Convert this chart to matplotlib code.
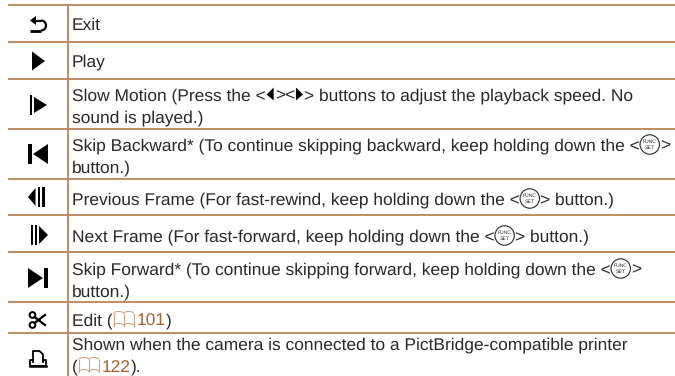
import re
import matplotlib
matplotlib.use("Agg")
import matplotlib.pyplot as plt
from matplotlib.patches import Polygon, Rectangle, Circle, Arc

plt.rcParams["font.family"] = ["Liberation Sans", "DejaVu Sans"]
plt.rcParams["text.hinting"] = "none"

TEXT = "#2b2728"
RULE = "#c08c62"
LINK = "#a4602e"
BOOK = "#cfa483"
FS = 12.5

rule_y = [5, 42, 79, 129, 179, 215, 252, 302, 333]
rule_x = 68

icons = ["exit", "play", "slow", "skipback", "prev", "next", "skipfwd", "edit", "print"]
icon_y = [24, 61, 105, 154, 197, 235, 278, 320, 359]

rows = [
    ["Exit"],
    ["Play"],
    ["Slow Motion (Press the <{L}><{R}> buttons to adjust the playback speed. No",
     "sound is played.)"],
    ["Skip Backward* (To continue skipping backward, keep holding down the <{F}>",
     "button.)"],
    ["Previous Frame (For fast-rewind, keep holding down the <{F}> button.)"],
    ["Next Frame (For fast-forward, keep holding down the <{F}> button.)"],
    ["Skip Forward* (To continue skipping forward, keep holding down the <{F}>",
     "button.)"],
    ["Edit ({B}[101])"],
    ["Shown when the camera is connected to a PictBridge-compatible printer",
     "({B}[122])."],
]
row_text_y = [[23.5], [60.5], [94.5, 116.5], [144.5, 166.5], [198.5], [235.5], [268.5, 290.5], [319.5], [343.5, 365.5]]

fig = plt.figure(figsize=(6.75, 3.76), dpi=100)
ax = fig.add_axes([0, 0, 1, 1])
ax.set_xlim(0, 675)
ax.set_ylim(376, 0)
ax.axis("off")


def tri(x0, x1, ytop, ybot):
    # x0 is the flat side, x1 the tip
    ax.add_patch(Polygon([(x0, ytop), (x0, ybot), (x1, (ytop + ybot) / 2)], fc="black", ec="none"))


def bar(x0, x1, y0, y1):
    ax.add_patch(Rectangle((x0, y0), x1 - x0, y1 - y0, fc="black", ec="none"))


def draw_icon(name, cy):
    if name == "exit":
        ax.plot([33, 41], [cy - 3.5, cy - 3.5], color="black", lw=1.6, solid_capstyle="butt")
        ax.add_patch(Arc((41, cy + 1.5), 10, 10, theta1=-90, theta2=90, color="black", lw=1.6))
        ax.plot([41, 29.5], [cy + 6.5, cy + 6.5], color="black", lw=2, solid_capstyle="butt")
        tri(36, 30, cy - 8, cy + 1)
    elif name == "play":
        tri(32, 45, cy - 9.5, cy + 9.5)
    elif name == "slow":
        bar(30, 32, cy - 10, cy + 10)
        tri(34, 47, cy - 8, cy + 8)
    elif name == "skipback":
        bar(28, 32, cy - 10, cy + 10)
        tri(48, 33, cy - 10, cy + 10)
    elif name == "prev":
        tri(35.5, 28, cy - 9, cy + 9)
        bar(37.5, 39.5, cy - 10, cy + 10)
        bar(42, 44.5, cy - 10, cy + 10)
    elif name == "next":
        bar(31, 33, cy - 10, cy + 10)
        bar(34.5, 36.5, cy - 10, cy + 10)
        tri(39, 48, cy - 9, cy + 9)
    elif name == "skipfwd":
        tri(28, 43, cy - 10, cy + 10)
        bar(44, 48, cy - 10, cy + 10)
    elif name == "edit":
        ax.add_patch(Circle((32.5, cy - 5), 2.9, fc="none", ec="black", lw=1.4))
        ax.add_patch(Circle((32.5, cy + 5), 2.9, fc="none", ec="black", lw=1.4))
        ax.plot([34.5, 45], [cy - 3, cy + 5], color="black", lw=1.6)
        ax.plot([34.5, 45], [cy + 3, cy - 5], color="black", lw=1.6)
    elif name == "print":
        ax.plot([33, 33, 39.5, 43, 43], [cy + 3, cy - 8, cy - 8, cy - 4.5, cy + 3], color="black", lw=1.3)
        ax.plot([33, 29.5, 29.5, 45.5, 45.5, 43], [cy + 1, cy + 1, cy + 7, cy + 7, cy + 1, cy + 1], color="black", lw=1.3)
        ax.plot([29.5, 45.5], [cy + 7, cy + 7], color="black", lw=1.8)


def draw_func(x, cy):
    ax.add_patch(Circle((x + 10, cy), 9.7, fc="white", ec=TEXT, lw=0.8))
    ax.text(x + 10, cy - 3, "FUNC", fontsize=3.6, ha="center", va="center", color=TEXT, stretch="condensed")
    ax.text(x + 10, cy + 3.2, "SET", fontsize=3.8, ha="center", va="center", color=TEXT)


def draw_book(x, cy):
    # open book: two pages with curved top and bottom edges
    for cx in (x + 6, x + 16):
        ax.add_patch(Arc((cx, cy - 6), 10, 4, theta1=180, theta2=360, color=BOOK, lw=0.8))
        ax.add_patch(Arc((cx, cy + 6), 10, 4, theta1=180, theta2=360, color=BOOK, lw=0.8))
    for vx in (x + 1, x + 11, x + 21):
        ax.plot([vx, vx], [cy - 6, cy + 6], color=BOOK, lw=0.8)


def text_width(s):
    # measure with a guard glyph so trailing spaces count
    r = fig.canvas.get_renderer()
    a = ax.text(0, 0, s + "|", fontsize=FS)
    b = ax.text(0, 0, "|", fontsize=FS)
    w = a.get_window_extent(r).width - b.get_window_extent(r).width
    a.remove()
    b.remove()
    return w


def draw_line(s, y):
    x = 72
    for part in re.split(r"(\{[A-Z]\}|\[\d+\])", s):
        if not part:
            continue
        if part == "{L}":
            ax.add_patch(Polygon([(x + 8, y - 7), (x + 8, y + 6), (x + 1, y)], fc="black", ec="none"))
            x += 9
        elif part == "{R}":
            ax.add_patch(Polygon([(x + 1, y - 7), (x + 1, y + 6), (x + 8, y)], fc="black", ec="none"))
            x += 9
        elif part == "{F}":
            draw_func(x, y)
            x += 20
        elif part == "{B}":
            draw_book(x, y)
            x += 24
        elif part.startswith("["):
            ax.text(x, y, part[1:-1], fontsize=FS, color=LINK, va="center_baseline")
            x += text_width(part[1:-1])
        else:
            ax.text(x, y, part, fontsize=FS, color=TEXT, va="center_baseline")
            x += text_width(part)


for y in rule_y:
    ax.plot([8, 675], [y, y], color=RULE, lw=1.4, solid_capstyle="butt")
ax.plot([rule_x, rule_x], [5, 376], color=RULE, lw=1.4, solid_capstyle="butt")

for name, cy in zip(icons, icon_y):
    draw_icon(name, cy)

for lines, ys in zip(rows, row_text_y):
    for s, y in zip(lines, ys):
        draw_line(s, y)

fig.savefig("out.png", dpi=100)
